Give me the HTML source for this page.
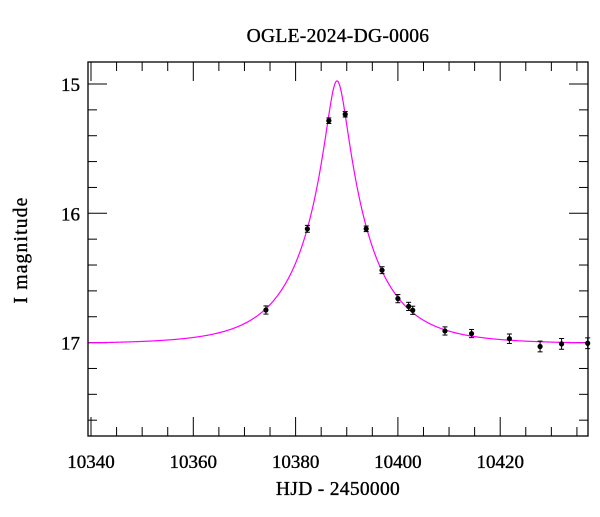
<!DOCTYPE html>
<html><head><meta charset="utf-8"><style>
body{margin:0;background:#fff}
svg text{font-family:"Liberation Serif",serif;fill:#000;stroke:#000;stroke-width:0.35}
</style></head><body>
<svg id="chart" width="600" height="512" viewBox="0 0 600 512" xmlns="http://www.w3.org/2000/svg">
<rect width="600" height="512" fill="#fff"/>
<text x="338" y="42" font-size="19.5" text-anchor="middle" letter-spacing="0.3">OGLE-2024-DG-0006</text>
<text x="338" y="495" font-size="19.5" text-anchor="middle" letter-spacing="0.3">HJD - 2450000</text>
<text x="0" y="0" font-size="19.5" text-anchor="middle" letter-spacing="1.2" transform="translate(27,250) rotate(-90)">I magnitude</text>
<g id="ticks"></g>
<g id="curve"></g>
<g id="points"></g>
<rect x="88" y="62" width="500" height="374" fill="none" stroke="#000" stroke-width="1.3"/>
</svg>
<script>
const times = [10374.2,10386.5,10389.7,10382.3,10393.8,10396.9,10400.0,10402.1,10402.9,10409.2,10414.4,10421.8,10427.8,10432.0,10437.1];
const mags = [16.748,15.284,15.234,16.12,16.12,16.44,16.66,16.72,16.75,16.91,16.93,16.97,17.03,17.01,17.005];
const errs = [0.02,0.01,0.01,0.015,0.01,0.015,0.02,0.02,0.02,0.02,0.02,0.025,0.03,0.03,0.03];
const xTicks = [10340,10360,10380,10400,10420];
const yTicks = [15,16,17];
const model_t0 = 10388.1, model_u0 = 0.155, model_tE = 12.9, model_Ibase = 17.01;

const NS="http://www.w3.org/2000/svg";
const X0=88,X1=588,Y0=62,Y1=436;
function xs(t){return 91+(t-10340)*5.115;}
function ys(m){return 84+(m-15)*129.3;}
const xmax=10340+(X1-91)/5.115;
const ymin=15-(84-Y0)/129.3, ymax=15+(Y1-84)/129.3;
function mk(tag,attrs,parent){const e=document.createElementNS(NS,tag);for(const k in attrs)e.setAttribute(k,attrs[k]);parent.appendChild(e);return e;}

const tg=document.getElementById('ticks');
for(let t=10340;t<=xmax;t+=5){
  const x=xs(t), major=(t%20===0), L=major?19:9;
  const a=mk('line',{x1:x,x2:x,y1:Y1,y2:Y1-L,stroke:'#000','stroke-width':1},tg);
  
  
  const b=mk('line',{x1:x,x2:x,y1:Y0,y2:Y0+L,stroke:'#000','stroke-width':1},tg);
  
  
}
xTicks.forEach(t=>{
  const e=mk('text',{x:xs(t),y:468,'font-size':19,'text-anchor':'middle'},tg);
  e.textContent=t;
  
  
});
for(let i=0;i<=14;i++){
  const m=14.8+i*0.2; if(m<ymin||m>ymax) continue;
  const y=ys(m), major=Math.abs(m-Math.round(m))<1e-6, L=major?19:9;
  const a=mk('line',{x1:X0,x2:X0+L,y1:y,y2:y,stroke:'#000','stroke-width':1},tg);
  
  
  const b=mk('line',{x1:X1,x2:X1-L,y1:y,y2:y,stroke:'#000','stroke-width':1},tg);
  
  
}
yTicks.forEach(m=>{
  const e=mk('text',{x:80,y:ys(m)+7,'font-size':19,'text-anchor':'end'},tg);
  e.textContent=m;
  
  
});

function model(t){const tau=(t-model_t0)/model_tE;const u=Math.sqrt(model_u0*model_u0+tau*tau);const A=(u*u+2)/(u*Math.sqrt(u*u+4));return model_Ibase-2.5*Math.log10(A);}
let d='';
for(let x=X0;x<=X1;x+=0.5){const t=10340+(x-91)/5.115;d+=(d?'L':'M')+x.toFixed(1)+','+ys(model(t)).toFixed(2);}
const cg=document.getElementById('curve');
const p=mk('path',{d:d,fill:'none',stroke:'#ff00ff','stroke-width':1.2},cg);



const pg=document.getElementById('points');
times.forEach((t,i)=>{
  const x=xs(t),y=ys(mags[i]),e=errs[i]*129.3+1.5;
  const g=mk('g',{},pg);
  
  
  mk('line',{x1:x,x2:x,y1:y-e,y2:y+e,stroke:'#000','stroke-width':1},g);
  mk('line',{x1:x-2.5,x2:x+2.5,y1:y-e,y2:y-e,stroke:'#000','stroke-width':1},g);
  mk('line',{x1:x-2.5,x2:x+2.5,y1:y+e,y2:y+e,stroke:'#000','stroke-width':1},g);
  mk('circle',{cx:x,cy:y,r:2.6,fill:'#000'},g);
});
</script>
</body></html>
